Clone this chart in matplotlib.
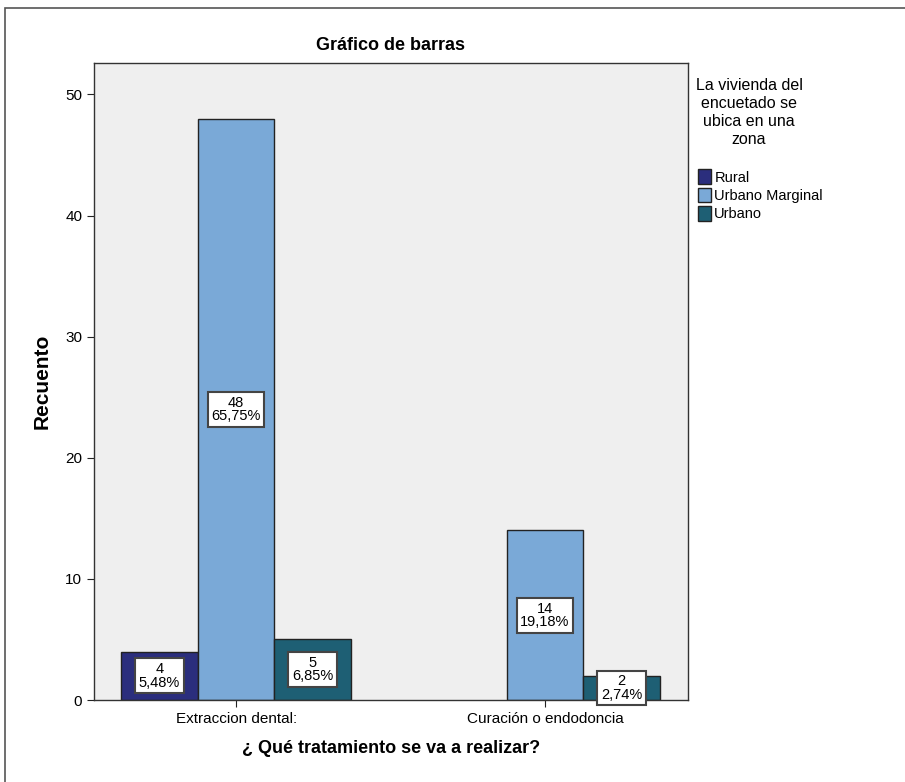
import numpy as np
import matplotlib.pyplot as plt
from matplotlib.patches import Rectangle, Patch

plt.rcParams['font.family'] = ['Liberation Sans', 'DejaVu Sans']

# data
categorias = ['Extraccion dental:', 'Curación o endodoncia']
zonas = ['Rural', 'Urbano Marginal', 'Urbano']
recuento = {
    'Rural': [4, 0],
    'Urbano Marginal': [48, 14],
    'Urbano': [5, 2],
}
porcentaje = {
    'Rural': ['5,48%', None],
    'Urbano Marginal': ['65,75%', '19,18%'],
    'Urbano': ['6,85%', '2,74%'],
}
colores = ['#2b2e7d', '#7aa9d7', '#1e5f74']

fig = plt.figure(figsize=(9.05, 7.82), dpi=100)
W, H = 905, 782
ax = fig.add_axes([94 / W, 1 - 700 / H, (688 - 94) / W, (700 - 63) / H])
ax.set_facecolor('#efefef')

# outer frame of the SPSS output
fig.patches.append(Rectangle((5 / W, -0.01), 1.0, 1 - 8 / H + 0.01, transform=fig.transFigure,
                             fill=False, edgecolor='#555555', linewidth=1.2))

x = np.arange(len(categorias))
w = 0.248
for i, z in enumerate(zonas):
    vals = recuento[z]
    pos = x + (i - 1) * w
    for j, v in enumerate(vals):
        if v == 0:
            continue
        ax.bar(pos[j], v, width=w, color=colores[i], edgecolor='#222222', linewidth=1.0, zorder=2)
        ax.text(pos[j], v / 2, f'{v}\n{porcentaje[z][j]}', ha='center', va='center',
                fontsize=10.5, linespacing=0.95, zorder=3,
                bbox=dict(boxstyle='square,pad=0.25', facecolor='white', edgecolor='#444444', linewidth=1.5))

ax.set_xlim(-0.46, 1.463)
ax.set_ylim(0, 52.6)
ax.set_yticks([0, 10, 20, 30, 40, 50])
ax.set_xticks(x)
ax.set_xticklabels(categorias)
ax.tick_params(axis='both', direction='out', length=5, color='#222222', labelsize=11)
for s in ax.spines.values():
    s.set_color('#333333')
    s.set_linewidth(1.0)

ax.set_ylabel('Recuento', fontsize=15, fontweight='bold', labelpad=10)
ax.set_xlabel('¿ Qué tratamiento se va a realizar?', fontsize=13, fontweight='bold', labelpad=10)
fig.text(391 / W, 1 - 45 / H, 'Gráfico de barras', ha='center', va='center', fontsize=13,
         fontweight='bold')

# legend
fig.text(749 / W, 1 - 113 / H, 'La vivienda del\nencuetado se\nubica en una\nzona',
         ha='center', va='center', fontsize=11.5, linespacing=1.25)
handles = [Patch(facecolor=c, edgecolor='#222222', label=z) for c, z in zip(colores, zonas)]
fig.legend(handles=handles, loc='upper left', bbox_to_anchor=(688 / W, 1 - 159 / H),
           frameon=False, fontsize=10.5, handlelength=0.9, handleheight=1.2,
           handletextpad=0.2, labelspacing=0.2, borderpad=0.2)

fig.savefig('out.png', dpi=100)
